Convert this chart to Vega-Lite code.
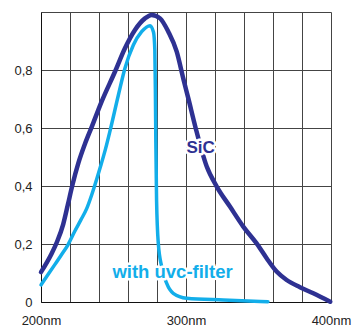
{
  "$schema": "https://vega.github.io/schema/vega-lite/v6.json",
  "width": 290,
  "height": 290,
  "autosize": "none",
  "padding": {"left": 41, "top": 12, "right": 23, "bottom": 25},
  "background": "white",
  "config": {
    "view": {"stroke": null},
    "font": "Liberation Sans"
  },
  "datasets": {
    "curves": [
      {"nm": 200, "r": 0.103, "s": "SiC"},
      {"nm": 207.1, "r": 0.165, "s": "SiC"},
      {"nm": 211, "r": 0.207, "s": "SiC"},
      {"nm": 215.3, "r": 0.268, "s": "SiC"},
      {"nm": 218.5, "r": 0.335, "s": "SiC"},
      {"nm": 221.5, "r": 0.4, "s": "SiC"},
      {"nm": 225.7, "r": 0.478, "s": "SiC"},
      {"nm": 230.3, "r": 0.545, "s": "SiC"},
      {"nm": 235, "r": 0.604, "s": "SiC"},
      {"nm": 241.8, "r": 0.691, "s": "SiC"},
      {"nm": 251, "r": 0.794, "s": "SiC"},
      {"nm": 257.9, "r": 0.875, "s": "SiC"},
      {"nm": 264.8, "r": 0.938, "s": "SiC"},
      {"nm": 271.7, "r": 0.978, "s": "SiC"},
      {"nm": 276.3, "r": 0.99, "s": "SiC"},
      {"nm": 282.1, "r": 0.978, "s": "SiC"},
      {"nm": 287.8, "r": 0.932, "s": "SiC"},
      {"nm": 293.6, "r": 0.863, "s": "SiC"},
      {"nm": 298.1, "r": 0.771, "s": "SiC"},
      {"nm": 301.6, "r": 0.702, "s": "SiC"},
      {"nm": 306.6, "r": 0.601, "s": "SiC"},
      {"nm": 314.3, "r": 0.467, "s": "SiC"},
      {"nm": 321.2, "r": 0.398, "s": "SiC"},
      {"nm": 330.3, "r": 0.329, "s": "SiC"},
      {"nm": 339.5, "r": 0.26, "s": "SiC"},
      {"nm": 348.7, "r": 0.202, "s": "SiC"},
      {"nm": 355.6, "r": 0.151, "s": "SiC"},
      {"nm": 362.5, "r": 0.105, "s": "SiC"},
      {"nm": 369.4, "r": 0.076, "s": "SiC"},
      {"nm": 378.6, "r": 0.051, "s": "SiC"},
      {"nm": 387.8, "r": 0.03, "s": "SiC"},
      {"nm": 399.5, "r": 0.001, "s": "SiC"},
      {"nm": 200, "r": 0.059, "s": "uvc"},
      {"nm": 204.5, "r": 0.092, "s": "uvc"},
      {"nm": 209.4, "r": 0.128, "s": "uvc"},
      {"nm": 214, "r": 0.162, "s": "uvc"},
      {"nm": 218.6, "r": 0.197, "s": "uvc"},
      {"nm": 223.2, "r": 0.243, "s": "uvc"},
      {"nm": 227.5, "r": 0.283, "s": "uvc"},
      {"nm": 231.5, "r": 0.322, "s": "uvc"},
      {"nm": 235, "r": 0.37, "s": "uvc"},
      {"nm": 238.5, "r": 0.425, "s": "uvc"},
      {"nm": 241.5, "r": 0.475, "s": "uvc"},
      {"nm": 244.5, "r": 0.528, "s": "uvc"},
      {"nm": 247.6, "r": 0.59, "s": "uvc"},
      {"nm": 253.3, "r": 0.712, "s": "uvc"},
      {"nm": 257.9, "r": 0.806, "s": "uvc"},
      {"nm": 263.7, "r": 0.886, "s": "uvc"},
      {"nm": 269.4, "r": 0.932, "s": "uvc"},
      {"nm": 275.2, "r": 0.953, "s": "uvc"},
      {"nm": 277.6, "r": 0.93, "s": "uvc"},
      {"nm": 278.5, "r": 0.87, "s": "uvc"},
      {"nm": 278.9, "r": 0.72, "s": "uvc"},
      {"nm": 279.2, "r": 0.55, "s": "uvc"},
      {"nm": 279.7, "r": 0.352, "s": "uvc"},
      {"nm": 280.9, "r": 0.202, "s": "uvc"},
      {"nm": 283.2, "r": 0.122, "s": "uvc"},
      {"nm": 286.7, "r": 0.064, "s": "uvc"},
      {"nm": 291.2, "r": 0.03, "s": "uvc"},
      {"nm": 300.5, "r": 0.013, "s": "uvc"},
      {"nm": 325.7, "r": 0.007, "s": "uvc"},
      {"nm": 356.5, "r": 0.001, "s": "uvc"}
    ],
    "labels": [
      {"nm": 310.1, "r": 0.53, "t": "SiC", "s": "SiC", "fs": 17},
      {"nm": 290.7, "r": 0.105, "t": "with uvc-filter", "s": "uvc", "fs": 18.5}
    ]
  },
  "encoding": {
    "x": {
      "field": "nm", "type": "quantitative",
      "scale": {"domain": [200, 400], "nice": false},
      "axis": {
        "title": null,
        "values": [200, 220, 240, 260, 280, 300, 320, 340, 360, 380, 400],
        "labelExpr": "datum.value % 100 == 0 ? datum.value + 'nm' : ''",
        "labelFlush": false,
        "labelOverlap": false,
        "ticks": false,
        "labelPadding": 12,
        "labelFontSize": 13,
        "labelColor": "#222",
        "domainColor": "#111",
        "grid": true,
        "gridColor": "#444",
        "gridWidth": 1,
        "gridOpacity": 1
      }
    },
    "y": {
      "field": "r", "type": "quantitative",
      "scale": {"domain": [0, 1], "nice": false},
      "axis": {
        "title": null,
        "values": [0, 0.2, 0.4, 0.6, 0.8, 1],
        "labelExpr": "datum.value == 0 ? '0' : (datum.value >= 1 ? '' : replace(format(datum.value, '.1f'), '.', ','))",
        "ticks": false,
        "labelPadding": 9,
        "labelFontSize": 13,
        "labelColor": "#222",
        "domainColor": "#111",
        "grid": true,
        "gridColor": "#444",
        "gridWidth": 1,
        "gridOpacity": 1
      }
    },
    "color": {
      "field": "s", "type": "nominal",
      "scale": {"domain": ["SiC", "uvc"], "range": ["#2e3192", "#12aeea"]},
      "legend": null
    }
  },
  "layer": [
    {
      "data": {"name": "curves"},
      "transform": [{"filter": "datum.s == 'uvc'"}],
      "mark": {"type": "line", "interpolate": "monotone", "strokeWidth": 3.5, "strokeCap": "round"}
    },
    {
      "data": {"name": "curves"},
      "transform": [{"filter": "datum.s == 'SiC'"}],
      "mark": {"type": "line", "interpolate": "monotone", "strokeWidth": 4.5, "strokeCap": "round"}
    },
    {
      "data": {"name": "labels"},
      "mark": {"type": "text", "fontWeight": "bold", "align": "center", "baseline": "middle", "stroke": "white", "strokeWidth": 5, "strokeJoin": "round"},
      "encoding": {"text": {"field": "t"}, "size": {"field": "fs", "type": "quantitative", "scale": null}, "color": {"value": "white"}}
    },
    {
      "data": {"name": "labels"},
      "mark": {"type": "text", "fontWeight": "bold", "align": "center", "baseline": "middle"},
      "encoding": {"text": {"field": "t"}, "size": {"field": "fs", "type": "quantitative", "scale": null}}
    }
  ]
}
